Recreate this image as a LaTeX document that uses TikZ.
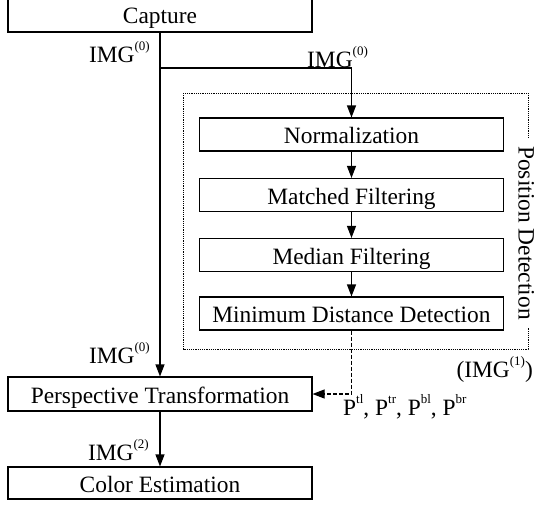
\documentclass[tikz,border=0pt]{standalone}
\usepackage{fontspec}
\setmainfont{Liberation Serif}
\usetikzlibrary{arrows.meta}
\newcommand\spx[1]{\raisebox{0.5em}{\fontsize{13}{13}\selectfont #1}}
\begin{document}
\begin{tikzpicture}[x=1pt,y=-1pt,
  font=\fontsize{23.4}{28}\selectfont,
  box/.style={draw,line width=1.1pt,minimum width=304pt,minimum height=33pt,text height=18pt,text depth=0pt,inner sep=2pt},
  arr/.style={line width=1.1pt,-{Triangle[length=12pt,width=9pt]}},
  lbl/.style={inner sep=0pt}]
\useasboundingbox (0,0) rectangle (536,504);
\node[box,minimum height=36pt] (cap) at (160,14) {Capture};
\node[box] (norm) at (351.5,134.5) {Normalization};
\node[box] (mat) at (351.5,195) {Matched Filtering};
\node[box] (med) at (351.5,255) {Median Filtering};
\node[box] (mind) at (351.5,313.5) {Minimum Distance Detection};
\node[box,minimum height=34pt] (persp) at (160,394) {Perspective Transformation};
\node[box,minimum height=32pt] (col) at (160,483) {Color Estimation};
\draw[line width=1pt,dash pattern=on 1.2pt off 1pt] (183,93) rectangle (528,349);
\node[fill=white,rotate=-90,anchor=base,inner xsep=8pt,inner ysep=1pt] (pd) at (518.5,233) {Position Detection};
\coordinate (br) at (160,68);
\draw[arr] (cap.south) -- (persp.north);
\draw[arr] (br) -| (norm.north);
\draw[arr] (norm) -- (mat);
\draw[arr] (mat) -- (med);
\draw[arr] (med) -- (mind);
\draw[arr,dash pattern=on 4pt off 2pt] (mind.south) |- (persp.east);
\draw[arr] (persp) -- (col);
\node[lbl,anchor=base east] (l1) at (150,62) {IMG\spx{(0)}};
\node[lbl,anchor=base west] (l2) at (307,67) {IMG\spx{(0)}};
\node[lbl,anchor=base east] (l3) at (150,363) {IMG\spx{(0)}};
\node[lbl,anchor=base east] (l4) at (149,460) {IMG\spx{(2)}};
\node[lbl,anchor=base east] (l5) at (533,377) {(IMG\spx{(1)})};
\node[lbl,anchor=base west] (l6) at (343,415) {P\spx{tl}, P\spx{tr}, P\spx{bl}, P\spx{br}};
\end{tikzpicture}
\end{document}
